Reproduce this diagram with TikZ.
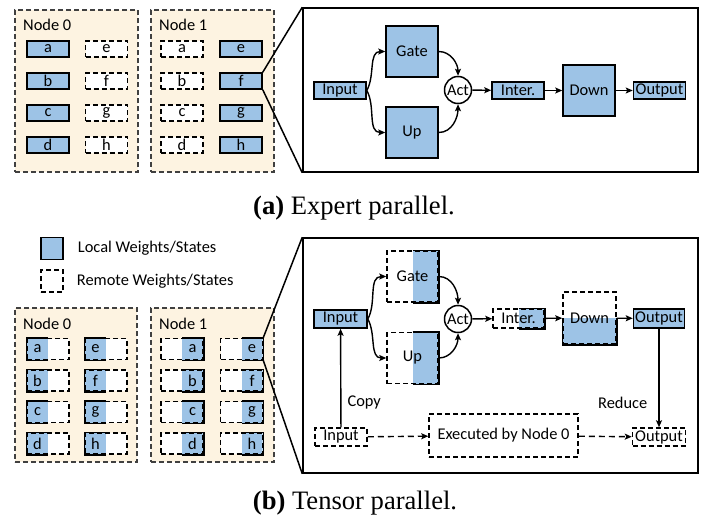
\documentclass[tikz,border=0pt]{standalone}
\usepackage{fontspec}
\setmainfont{Carlito}
\newfontfamily\capfont{Liberation Serif}
\usetikzlibrary{arrows.meta,positioning}
\definecolor{wblue}{HTML}{9DC3E6}
\definecolor{nodebg}{HTML}{FDF3E1}
\definecolor{nodeline}{HTML}{404040}

\begin{document}
\begin{tikzpicture}[x=1pt,y=-1pt,>={Stealth[length=7pt,width=6pt,inset=1.5pt]},
  font=\fontsize{16.4}{19}\selectfont,
  every node/.style={inner sep=0pt},
  boxline/.style={line width=1.5pt},
  dashline/.style={line width=1.5pt,dash pattern=on 5pt off 3pt},
  local/.style={draw,boxline,fill=wblue},
  remote/.style={draw,dashline,fill=white},
  leftblue/.style={remote,path picture={\fill[wblue] (path picture bounding box.south west) rectangle (path picture bounding box.north);}},
  rightblue/.style={remote,path picture={\fill[wblue] (path picture bounding box.south) rectangle (path picture bounding box.north east);}},
  lowblue/.style={remote,path picture={\fill[wblue] (path picture bounding box.south west) rectangle (path picture bounding box.east);}},
  machine/.style={draw=nodeline,fill=nodebg,dashline},
  wbox/.style={minimum width=42pt,minimum height=16pt},
  sbox/.style={minimum width=42pt,minimum height=21pt},
  flow/.style={->,line width=1.4pt},
  zoomline/.style={line width=1.5pt}]
  \useasboundingbox (0,0) rectangle (706,530);

  % (a) expert parallel
  \node[machine,minimum width=123pt,minimum height=162pt] (m0) at (76.5,91) {};
  \node[machine,minimum width=123pt,minimum height=162pt] (m1) at (212.5,91) {};
  \node[anchor=west] (m0lab) at (23,25) {Node 0};
  \node[anchor=west] (m1lab) at (159,25) {Node 1};
  \foreach \l/\r [count=\i] in {a/e,b/f,c/g,d/h} {
    \node[local,wbox] (e0\l) at (48,{17+32*\i}) {\l};
    \node[remote,wbox] (e0\r) at (106.5,{17+32*\i}) {\r};
    \node[remote,wbox] (e1\l) at (182,{17+32*\i}) {\l};
    \node[local,wbox] (e1\r) at (241,{17+32*\i}) {\r};
  }
  \node[draw,boxline,minimum width=395pt,minimum height=164pt] (ef) at (500.5,90) {};
  \draw[zoomline] (e1f.north east) -- (ef.north west);
  \draw[zoomline] (e1f.south east) -- (ef.south west);

  \node[local,minimum width=52pt,minimum height=17pt] (ein) at (340,90.5) {Input};
  \node[local,minimum width=52pt,minimum height=51pt] (egate) at (412,51.5) {Gate};
  \node[local,minimum width=52pt,minimum height=51pt] (eup) at (412,132.5) {Up};
  \node[draw,boxline,circle,fill=white,minimum size=27pt] (eact) at (458,90) {Act};
  \node[local,minimum width=52pt,minimum height=17pt] (einter) at (518,90.5) {Inter.};
  \node[local,minimum width=52pt,minimum height=51pt] (edown) at (589,90.5) {Down};
  \node[local,minimum width=52pt,minimum height=17pt] (eout) at (659.5,90.5) {Output};
  \draw[flow] (ein.east) to[out=60,in=180] (egate.west);
  \draw[flow] (ein.east) to[out=-60,in=180] (eup.west);
  \draw[flow] (egate.east) to[out=0,in=90] (eact.north);
  \draw[flow] (eup.east) to[out=0,in=-90] (eact.south);
  \draw[flow] (eact) -- (einter);
  \draw[flow] (einter) -- (edown);
  \draw[flow] (edown) -- (eout);

  \node (capa) at (354,208) {\capfont\fontsize{26.6}{30}\selectfont\textbf{(a)} Expert parallel.};

  % (b) tensor parallel
  \node[local,minimum size=22pt] (kl) at (52,248.5) {};
  \node[right=14pt of kl] (kltxt) {Local Weights/States};
  \node[remote,minimum size=22pt] (kr) at (52,281) {};
  \node[right=13pt of kr] (krtxt) {Remote Weights/States};

  \node[machine,minimum width=122pt,minimum height=154pt] (m2) at (76,385) {};
  \node[machine,minimum width=123pt,minimum height=154pt] (m3) at (212.5,385) {};
  \node[anchor=west] (m2lab) at (23,324) {Node 0};
  \node[anchor=west] (m3lab) at (159,324) {Node 1};
  \foreach \l/\r [count=\i] in {a/e,b/f,c/g,d/h} {
    \node[leftblue,sbox] (t0\l) at (48,{317.5+31.5*\i}) {};
    \draw[boxline] (t0\l.north) -| (t0\l.south west) -- (t0\l.south);
    \node (l0\l) at ([xshift=-10.5pt]t0\l.center) {\l};
    \node[leftblue,sbox] (t0\r) at (106,{317.5+31.5*\i}) {};
    \draw[boxline] (t0\r.north) -| (t0\r.south west) -- (t0\r.south);
    \node (l0\r) at ([xshift=-10.5pt]t0\r.center) {\r};
    \node[rightblue,sbox] (t1\l) at (182,{317.5+31.5*\i}) {};
    \draw[boxline] (t1\l.north) -| (t1\l.south east) -- (t1\l.south);
    \node (l1\l) at ([xshift=10.5pt]t1\l.center) {\l};
    \node[rightblue,sbox] (t1\r) at (241.5,{317.5+31.5*\i}) {};
    \draw[boxline] (t1\r.north) -| (t1\r.south east) -- (t1\r.south);
    \node (l1\r) at ([xshift=10.5pt]t1\r.center) {\r};
  }
  \node[draw,boxline,minimum width=395pt,minimum height=235pt] (tf) at (500.5,355.5) {};
  \draw[zoomline] (t1e.north east) -- (tf.north west);
  \draw[zoomline] (t1e.south east) -- (tf.south west);

  \node[local,minimum width=53pt,minimum height=18pt] (tin) at (340.5,319) {Input};
  \node[rightblue,minimum width=51pt,minimum height=51pt] (tgate) at (412.5,276.5) {Gate};
  \draw[boxline] (tgate.north) -| (tgate.south east) -- (tgate.south);
  \node[rightblue,minimum width=51pt,minimum height=51pt] (tup) at (412.5,358) {Up};
  \draw[boxline] (tup.north) -| (tup.south east) -- (tup.south);
  \node[draw,boxline,circle,fill=white,minimum size=27pt] (tact) at (458,319) {Act};
  \node[rightblue,minimum width=51pt,minimum height=19pt] (tinter) at (518.5,318.5) {Inter.};
  \draw[boxline] (tinter.north) -| (tinter.south east) -- (tinter.south);
  \node[lowblue,minimum width=53pt,minimum height=52pt] (tdown) at (589.5,318) {Down};
  \draw[boxline] (tdown.west) |- (tdown.south east) -- (tdown.east);
  \node[local,minimum width=51pt,minimum height=19pt] (tout) at (659,318.5) {Output};
  \node[remote,minimum width=52pt,minimum height=18pt] (rin) at (341,437) {Input};
  \node[remote,minimum width=149pt,minimum height=43pt] (exec) at (503.5,435.5) {Executed by Node 0};
  \node[remote,minimum width=53pt,minimum height=18pt] (rout) at (659,437) {Output};

  \draw[flow] (tin.east) to[out=60,in=180] (tgate.west);
  \draw[flow] (tin.east) to[out=-60,in=180] (tup.west);
  \draw[flow] (tgate.east) to[out=0,in=90] (tact.north);
  \draw[flow] (tup.east) to[out=0,in=-90] (tact.south);
  \draw[flow] (tact) -- (tinter);
  \draw[flow] (tinter) -- (tdown);
  \draw[flow] (tdown) -- (tout);
  \draw[flow] (rin) -- (tin) node[pos=.25,right=6pt] {Copy};
  \draw[flow] (tout) -- (rout) node[pos=.75,left=11pt] {Reduce};
  \draw[flow,dash pattern=on 6pt off 4pt] (rin) -- (exec);
  \draw[flow,dash pattern=on 6pt off 4pt] (exec) -- (rout);

  \node (capb) at (355,503) {\capfont\fontsize{26.6}{30}\selectfont\textbf{(b)} Tensor parallel.};
\end{tikzpicture}
\end{document}
